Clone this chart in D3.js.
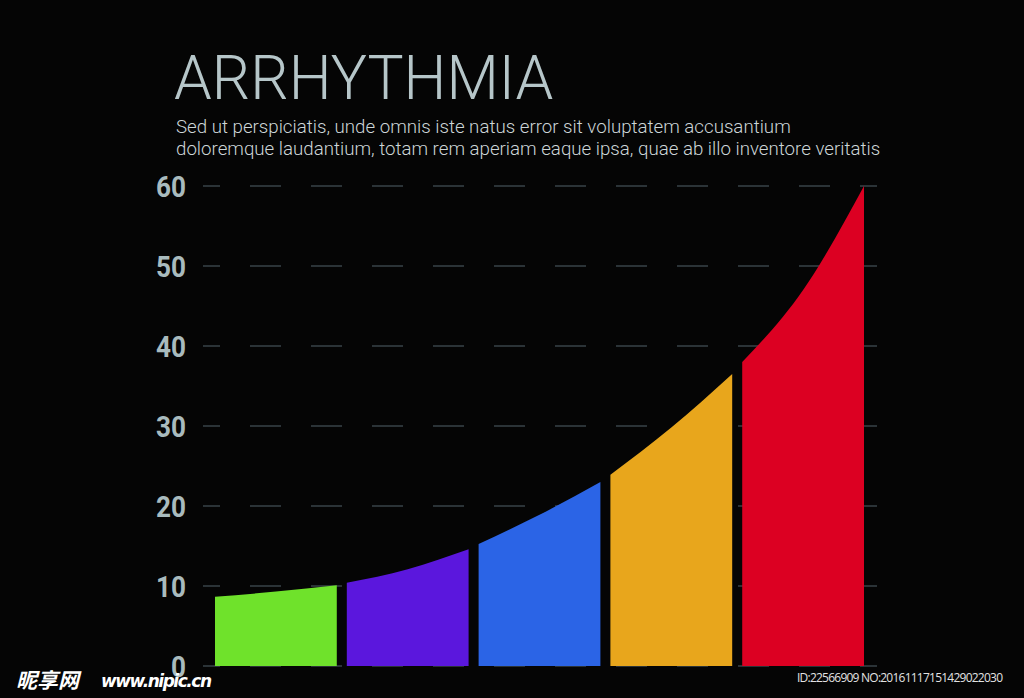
<!DOCTYPE html>
<html>
<head>
<meta charset="utf-8">
<script src="https://cdn.jsdelivr.net/npm/d3@7"></script>
<style>
  html, body { margin: 0; padding: 0; background: #050505; }
  svg { display: block; }
</style>
</head>
<body>
<svg id="chart" width="1024" height="698"></svg>
<script>
// ---- data ----
const categories = ["Stage 1", "Stage 2", "Stage 3", "Stage 4", "Stage 5"];
const startValues = [8.65, 10.4, 15.25, 23.9, 38.0];
const midValues   = [9.3, 12.1, 18.9, 29.8, 47.0];
const endValues   = [10.1, 14.6, 23.0, 36.5, 60.0];
const barColors   = ["#6fe22b", "#5b17dd", "#2b64e6", "#e8a61c", "#dc0022"];
const yTicks      = [0, 10, 20, 30, 40, 50, 60];
const titleText   = "ARRHYTHMIA";
const subtitleLines = [
  "Sed ut perspiciatis, unde omnis iste natus error sit voluptatem accusantium",
  "doloremque laudantium, totam rem aperiam eaque ipsa, quae ab illo inventore veritatis"
];

// ---- layout ----
const svg = d3.select("#chart");
svg.append("rect").attr("width", 1024).attr("height", 698).attr("fill", "#050505");

const y = d3.scaleLinear().domain([0, 60]).range([666, 186]);
const x = d3.scaleBand().domain(categories).range([215, 864]).paddingInner(0.076).paddingOuter(0);

// gridlines
const grid = svg.append("g");
grid.selectAll("line").data(yTicks).join("line")
  .attr("x1", 203).attr("x2", 877)
  .attr("y1", d => y(d)).attr("y2", d => y(d))
  .attr("stroke", "#2b3337")
  .attr("stroke-width", 2)
  .attr("stroke-dasharray", "31 30")
  .attr("stroke-dashoffset", 14);

// y labels
svg.append("g").selectAll("text").data(yTicks).join("text")
  .attr("transform", d => `translate(186,${y(d)}) scale(0.87,1)`)
  .attr("text-anchor", "end")
  .attr("dy", "0.36em")
  .attr("font-family", "Roboto, 'Open Sans', sans-serif")
  .attr("font-weight", 700)
  .attr("font-size", 30)
  .attr("fill", "#a9bbbe")
  .text(d => d);

// bars with curved tops
const area = d3.area()
  .x(d => d[0])
  .y0(y(0))
  .y1(d => y(d[1]))
  .curve(d3.curveMonotoneX);

const barData = categories.map((c, i) => {
  const x0 = x(c), w = x.bandwidth();
  return {
    color: barColors[i],
    pts: [[x0, startValues[i]], [x0 + w / 2, midValues[i]], [x0 + w, endValues[i]]]
  };
});

svg.append("g").selectAll("path").data(barData).join("path")
  .attr("d", d => area(d.pts))
  .attr("fill", d => d.color);

// title
svg.append("text")
  .attr("x", 174).attr("y", 99)
  .attr("font-family", "Roboto, sans-serif")
  .attr("font-weight", 300)
  .attr("font-size", 60.5)
  .attr("fill", "#b6c6c9")
  .text(titleText);

svg.append("g").selectAll("text").data(subtitleLines).join("text")
  .attr("x", 176)
  .attr("y", (d, i) => 132.5 + i * 22.5)
  .attr("font-family", "Roboto, sans-serif")
  .attr("font-weight", 300)
  .attr("font-size", 18.7)
  .attr("fill", "#cdd6d8")
  .text(d => d);

// watermark
svg.append("text")
  .attr("x", 16).attr("y", 688)
  .attr("font-family", "'Noto Sans CJK SC', sans-serif")
  .attr("font-weight", 700)
  .attr("font-style", "italic")
  .attr("font-size", 21)
  .attr("fill", "#ffffff")
  .text("昵享网");
svg.append("text")
  .attr("x", 101).attr("y", 687)
  .attr("font-family", "'DejaVu Sans', sans-serif")
  .attr("font-weight", 700)
  .attr("font-style", "italic")
  .attr("font-size", 17)
  .attr("fill", "#ffffff")
  .attr("textLength", 111)
  .text("www.nipic.cn");
svg.append("text")
  .attr("x", 797).attr("y", 682)
  .attr("font-family", "'Open Sans', sans-serif")
  .attr("font-size", 12)
  .attr("fill", "#e2e2e2")
  .attr("textLength", 206)
  .text("ID:22566909 NO:20161117151429022030");
</script>
</body>
</html>
